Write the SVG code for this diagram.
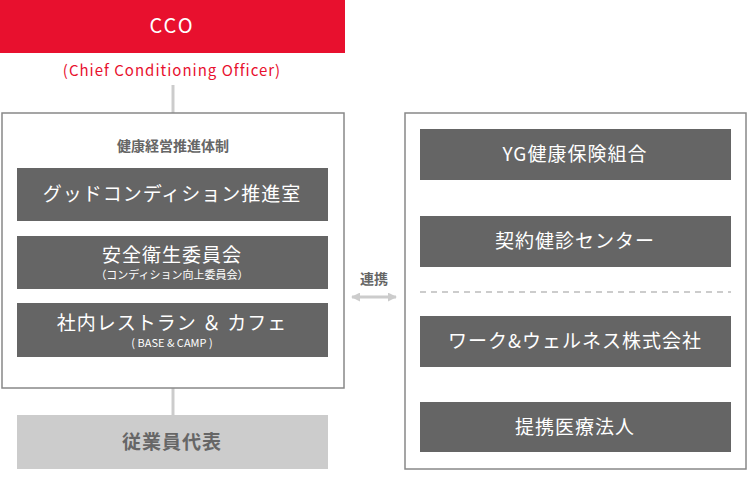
<svg xmlns="http://www.w3.org/2000/svg" width="747" height="500" viewBox="0 0 747 500">
<style>
text{font-family:"Noto Sans CJK JP","Noto Sans",sans-serif;text-anchor:middle}
.box{fill:#656565}
.w{fill:#fff;font-size:19px;letter-spacing:1px}
.s{fill:#fff;font-size:11px}
.g{fill:#666;font-size:14px;font-weight:bold}
.frame{fill:#fff;stroke:#888;stroke-width:1.5}
.ln{stroke:#ccc;stroke-width:3;fill:none}
</style>
<defs>
<marker id="ah" viewBox="0 0 10 10" refX="9" refY="5" markerWidth="3" markerHeight="3" orient="auto-start-reverse"><path d="M0,0L10,5L0,10z" fill="#ccc"/></marker>
</defs>
<g id="connectors">
<line class="ln" x1="173" y1="85" x2="173" y2="113"/>
<line class="ln" x1="173" y1="388" x2="173" y2="415"/>
<line x1="352" y1="297" x2="396" y2="297" stroke="#ccc" stroke-width="3" marker-start="url(#ah)" marker-end="url(#ah)"/>
<text class="g" x="374" y="284">連携</text>
<line x1="576" y1="187" x2="576" y2="210" stroke="#ccc" stroke-width="3" marker-start="url(#ah)" marker-end="url(#ah)"/>
<text class="g" x="606" y="204">連携</text>
<line x1="576" y1="373" x2="576" y2="396" stroke="#ccc" stroke-width="3" marker-start="url(#ah)" marker-end="url(#ah)"/>
<text class="g" x="606" y="390">連携</text>
</g>
<g id="cco"><rect x="0" y="0" width="345" height="53" fill="#e8102e"/><text x="172" y="33" fill="#fff" font-size="20" font-family="Liberation Sans,sans-serif" letter-spacing="2">CCO</text>
<text x="172" y="76" fill="#e8102e" font-size="15" font-family="Liberation Sans,sans-serif" letter-spacing="1">(Chief Conditioning Officer)</text></g>
<g id="left"><rect class="frame" x="2" y="113" width="342" height="275"/><text class="g" x="173" y="151">健康経営推進体制</text></g>
<g id="good"><rect class="box" x="17" y="168" width="311" height="53"/><text class="w" x="172" y="201">グッドコンディション推進室</text></g>
<g id="anzen"><rect class="box" x="17" y="236" width="311" height="53"/><text class="w" x="172" y="262">安全衛生委員会</text><text class="s" x="172" y="279">（コンディション向上委員会）</text></g>
<g id="rest"><rect class="box" x="17" y="303" width="311" height="54"/><text class="w" x="172" y="330">社内レストラン ＆ カフェ</text><text class="s" x="172" y="347">( BASE &amp; CAMP )</text></g>
<g id="jugyo"><rect x="17" y="415" width="311" height="54" fill="#ccc"/><text x="172" y="449" fill="#666" font-size="19" font-weight="bold" letter-spacing="1">従業員代表</text></g>
<g id="right"><rect class="frame" x="405" y="113" width="341" height="356"/>
<line x1="420" y1="292" x2="731" y2="292" stroke="#ccc" stroke-width="2" stroke-dasharray="6,5"/></g>
<g id="yg"><rect class="box" x="420" y="129" width="311" height="51"/><text class="w" x="575" y="161">YG健康保険組合</text></g>
<g id="keiyaku"><rect class="box" x="420" y="216" width="311" height="51"/><text class="w" x="575" y="248">契約健診センター</text></g>
<g id="work"><rect class="box" x="420" y="316" width="311" height="51"/><text class="w" x="575" y="348">ワーク&amp;ウェルネス株式会社</text></g>
<g id="teikei"><rect class="box" x="420" y="402" width="311" height="50"/><text class="w" x="575" y="434">提携医療法人</text></g>
</svg>
